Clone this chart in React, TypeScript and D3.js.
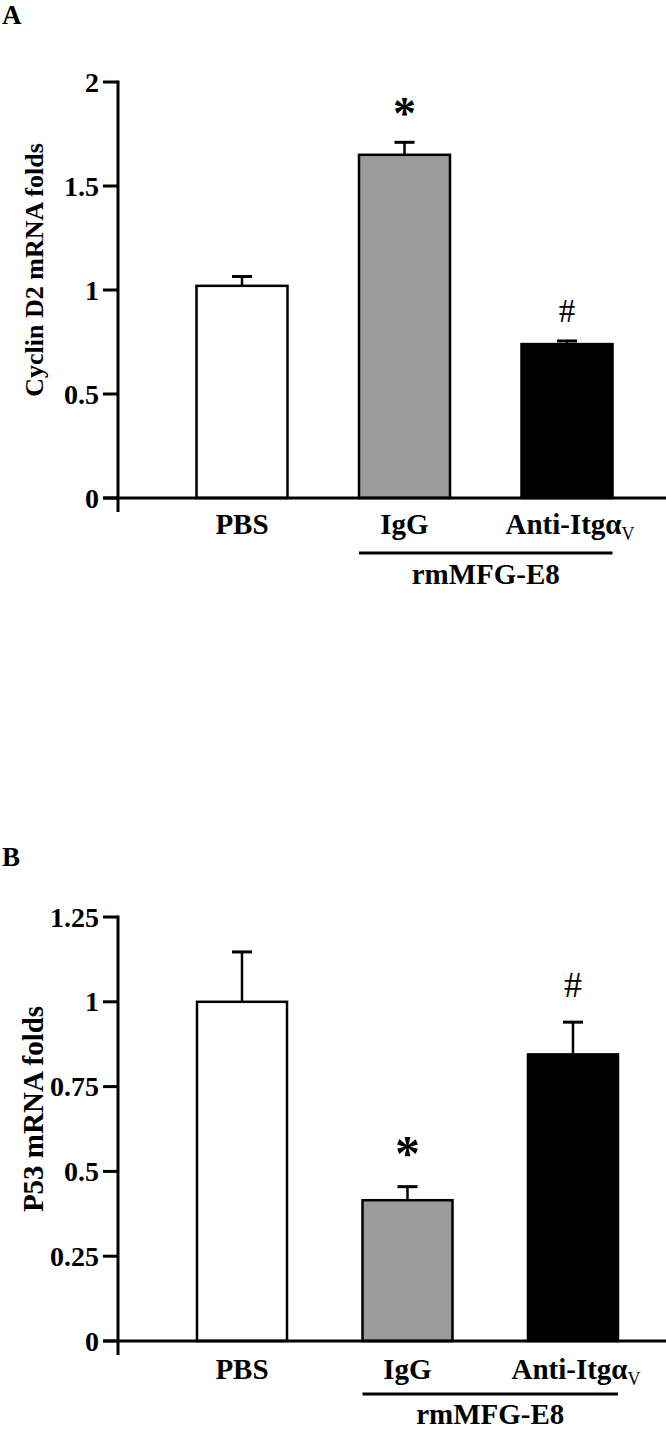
import React from "react";
import * as d3 from "d3";

// groups on the x axis
const categories = ["PBS", "IgG", "Anti-Itgα"];
const barFills = ["#ffffff", "#9b9b9b", "#000000"];
const marks = ["", "*", "#"];

// panel A: Cyclin D2
const cyclinMeans = [1.02, 1.65, 0.74];
const cyclinErrors = [0.045, 0.06, 0.015];
const cyclinTicks = [0, 0.5, 1, 1.5, 2];

// panel B: P53
const p53Means = [1.0, 0.415, 0.845];
const p53Errors = [0.147, 0.04, 0.095];
const p53Ticks = [0, 0.25, 0.5, 0.75, 1, 1.25];

const FONT = "'Liberation Serif', 'Times New Roman', serif";

type PanelProps = {
  letter: string;
  letterY: number;
  title: string;
  titleSize: number;
  means: number[];
  errors: number[];
  ticks: number[];
  top: number;
  bottom: number;
  xFrom: number;
  xTo: number;
  barWidth: number;
  starGap: number;
  starSize: number;
  hashGap: number;
  hashSize: number;
  labelDy: number;
  lineDy: number;
  groupDy: number;
};

const Panel = (p: PanelProps) => {
  const { means, errors, ticks, top, bottom, barWidth } = p;
  const axisX = 118;
  const y = d3.scaleLinear().domain([0, d3.max(ticks) as number]).range([bottom, top]);
  const x = d3.scalePoint<string>().domain(categories).range([p.xFrom, p.xTo]);

  return (
    <g>
      <text x={2} y={p.letterY} fontFamily={FONT} fontWeight="bold" fontSize={27}>
        {p.letter}
      </text>

      {/* y title */}
      <text
        transform={`translate(43,${(top + bottom) / 2 - 20}) rotate(-90)`}
        textAnchor="middle"
        fontFamily={FONT}
        fontWeight="bold"
        fontSize={p.titleSize}
      >
        {p.title}
      </text>

      {/* bars + error bars */}
      {means.map((m, i) => {
        const cx = x(categories[i]) as number;
        const errTop = y(m + errors[i]);
        return (
          <g key={i}>
            <line x1={cx} x2={cx} y1={y(m)} y2={errTop} stroke="#000" strokeWidth={2.5} />
            <line x1={cx - 10} x2={cx + 10} y1={errTop} y2={errTop} stroke="#000" strokeWidth={3} />
            <rect
              x={cx - barWidth / 2}
              y={y(m)}
              width={barWidth}
              height={bottom - y(m)}
              fill={barFills[i]}
              stroke="#000"
              strokeWidth={2.5}
            />
            {marks[i] === "*" && (
              <text
                x={cx}
                y={errTop - p.starGap + 0.475 * p.starSize}
                textAnchor="middle"
                fontFamily={FONT}
                fontWeight="bold"
                fontSize={p.starSize}
              >
                *
              </text>
            )}
            {marks[i] === "#" && (
              <text
                x={cx}
                y={errTop - p.hashGap + 0.34 * p.hashSize}
                textAnchor="middle"
                fontFamily={FONT}
                fontSize={p.hashSize}
              >
                #
              </text>
            )}
          </g>
        );
      })}

      {/* axes */}
      <line x1={axisX} x2={axisX} y1={top - 1.5} y2={bottom + 14} stroke="#000" strokeWidth={3} />
      <line x1={103} x2={666} y1={bottom} y2={bottom} stroke="#000" strokeWidth={3} />
      {ticks.map((t) => (
        <g key={t}>
          <line x1={103} x2={axisX} y1={y(t)} y2={y(t)} stroke="#000" strokeWidth={3} />
          <text x={99} y={y(t) + 9.5} textAnchor="end" fontFamily={FONT} fontWeight="bold" fontSize={28}>
            {String(t)}
          </text>
        </g>
      ))}

      {/* x labels */}
      {categories.map((c, i) => (
        <text
          key={c}
          x={(x(c) as number) + (i === 2 ? 3 : 0)}
          y={bottom + p.labelDy}
          textAnchor="middle"
          fontFamily={FONT}
          fontWeight="bold"
          fontSize={29}
        >
          {c}
          {i === 2 && (
            <tspan fontSize={18} fontWeight="normal" dy={6}>
              V
            </tspan>
          )}
        </text>
      ))}
      <line
        x1={(x(categories[1]) as number) - barWidth / 2}
        x2={(x(categories[2]) as number) + barWidth / 2}
        y1={bottom + p.lineDy}
        y2={bottom + p.lineDy}
        stroke="#000"
        strokeWidth={3}
      />
      <text
        x={((x(categories[1]) as number) + (x(categories[2]) as number)) / 2}
        y={bottom + p.groupDy}
        textAnchor="middle"
        fontFamily={FONT}
        fontWeight="bold"
        fontSize={29}
      >
        rmMFG-E8
      </text>
    </g>
  );
};

export default function App() {
  return (
    <div style={{ position: "absolute", left: 0, top: 0 }}>
      <svg width={666} height={1429} style={{ display: "block", background: "#fff" }}>
        <Panel
          letter="A"
          letterY={24}
          title="Cyclin D2 mRNA folds"
          titleSize={26}
          means={cyclinMeans}
          errors={cyclinErrors}
          ticks={cyclinTicks}
          top={82}
          bottom={498}
          xFrom={242}
          xTo={567}
          barWidth={91}
          starGap={35}
          starSize={46}
          hashGap={30}
          hashSize={33}
          labelDy={36}
          lineDy={55}
          groupDy={86}
        />
        <Panel
          letter="B"
          letterY={866}
          title="P53 mRNA folds"
          titleSize={29}
          means={p53Means}
          errors={p53Errors}
          ticks={p53Ticks}
          top={917}
          bottom={1341}
          xFrom={242}
          xTo={573}
          barWidth={90}
          starGap={40}
          starSize={50}
          hashGap={37}
          hashSize={36}
          labelDy={38}
          lineDy={53}
          groupDy={83}
        />
      </svg>
    </div>
  );
}
